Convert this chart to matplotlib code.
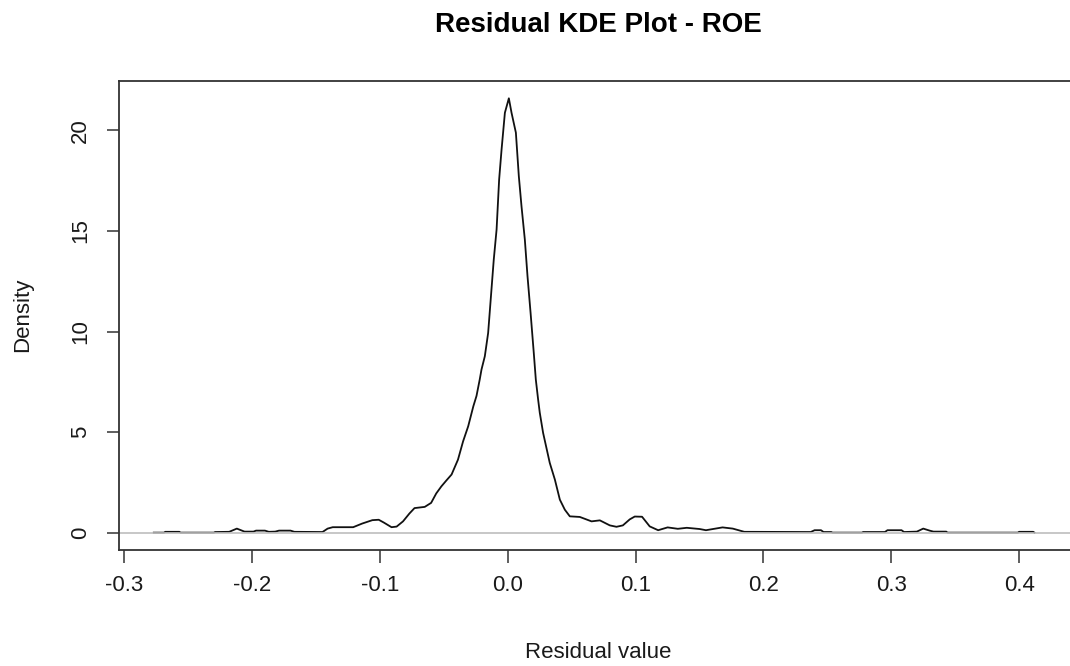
import matplotlib
matplotlib.use("Agg")
import matplotlib.pyplot as plt

plt.rcParams["font.family"] = ["Liberation Sans", "DejaVu Sans"]

# density curve of the ROE residuals
resid_x = [
    -0.277, -0.269, -0.268, -0.257, -0.256, -0.230, -0.229, -0.218, -0.212, -0.206,
    -0.199, -0.197, -0.190, -0.187, -0.182, -0.179, -0.170, -0.167, -0.145, -0.141,
    -0.137, -0.121, -0.114, -0.106, -0.101, -0.097, -0.091, -0.087, -0.082, -0.077,
    -0.073, -0.065, -0.060, -0.056, -0.052, -0.048, -0.044, -0.039, -0.035, -0.031,
    -0.027, -0.0245, -0.022, -0.0206, -0.018, -0.0154, -0.0128, -0.011, -0.0088, -0.0068,
    -0.0049, -0.0023, 0.0008, 0.0029, 0.0063, 0.0086, 0.0107, 0.0133, 0.0154, 0.0178,
    0.0203, 0.0219, 0.0237, 0.025, 0.0276, 0.0328, 0.0368, 0.0407, 0.0446, 0.0485,
    0.0563, 0.0655, 0.072, 0.0798, 0.085, 0.090, 0.0954, 0.0993, 0.105, 0.111,
    0.1176, 0.125, 0.133, 0.140, 0.150, 0.155, 0.168, 0.176, 0.185, 0.237,
    0.240, 0.245, 0.247, 0.253, 0.254, 0.277, 0.278, 0.295, 0.297, 0.308,
    0.310, 0.320, 0.325, 0.330, 0.333, 0.343, 0.344, 0.399, 0.400, 0.411,
    0.412,
]
density = [
    0.0, 0.0, 0.04, 0.04, 0.0, 0.0, 0.03, 0.04, 0.2, 0.05,
    0.05, 0.1, 0.1, 0.04, 0.05, 0.1, 0.1, 0.04, 0.03, 0.2,
    0.27, 0.27, 0.45, 0.62, 0.64, 0.5, 0.27, 0.3, 0.56, 0.95,
    1.22, 1.28, 1.48, 1.95, 2.30, 2.6, 2.89, 3.63, 4.54, 5.29,
    6.28, 6.8, 7.61, 8.11, 8.77, 9.93, 12.09, 13.58, 15.07, 17.56,
    19.05, 20.88, 21.6, 20.88, 19.89, 17.73, 16.23, 14.58, 12.75, 10.93,
    8.94, 7.61, 6.62, 5.96, 4.96, 3.47, 2.64, 1.64, 1.14, 0.81,
    0.78, 0.56, 0.61, 0.36, 0.29, 0.36, 0.66, 0.8, 0.79, 0.31,
    0.12, 0.26, 0.19, 0.24, 0.18, 0.12, 0.26, 0.2, 0.04, 0.03,
    0.12, 0.12, 0.03, 0.03, 0.0, 0.0, 0.03, 0.03, 0.12, 0.12,
    0.03, 0.05, 0.2, 0.1, 0.05, 0.05, 0.0, 0.0, 0.04, 0.04,
    0.0,
]

x_ticks = [-0.3, -0.2, -0.1, 0.0, 0.1, 0.2, 0.3, 0.4]
x_tick_labels = ["-0.3", "-0.2", "-0.1", "0.0", "0.1", "0.2", "0.3", "0.4"]
y_ticks = [0, 5, 10, 15, 20]
y_tick_labels = ["0", "5", "10", "15", "20"]

W, H = 1070, 666
fig = plt.figure(figsize=(W / 100, H / 100), dpi=100)

# plot box in pixels (right edge sits just past the image edge, as in the reference)
left, right, top, bottom = 119, 1071, 81, 550
ax = fig.add_axes([left / W, 1 - bottom / H, (right - left) / W, (bottom - top) / H])

ax.plot(resid_x, density, color="#111111", lw=1.3)
ax.axhline(0, color="#bebebe", lw=1.2)

ax.set_xlim(-0.3042, 0.4406)
ax.set_ylim(-0.864, 22.46)

ax.set_xticks(x_ticks)
ax.set_xticklabels(x_tick_labels)
ax.set_yticks(y_ticks)
ax.set_yticklabels(y_tick_labels, rotation=90, va="center")

ax.tick_params(axis="both", length=9, width=1.1, color="#333333",
               labelsize=16, labelcolor="#1a1a1a")
ax.tick_params(axis="x", pad=9)
ax.tick_params(axis="y", pad=11)
for sp in ax.spines.values():
    sp.set_color("#333333")
    sp.set_linewidth(1.3)

fig.text(598 / W, 1 - 25 / H, "Residual KDE Plot - ROE", ha="center", va="center",
         fontsize=20, fontweight="bold")
fig.text(598 / W, 1 - 652 / H, "Residual value", ha="center", va="center",
         fontsize=16, color="#1a1a1a")
fig.text(23 / W, 1 - 315 / H, "Density", ha="center", va="center", rotation=90,
         fontsize=16, color="#1a1a1a")

fig.savefig("out.png", dpi=100)
